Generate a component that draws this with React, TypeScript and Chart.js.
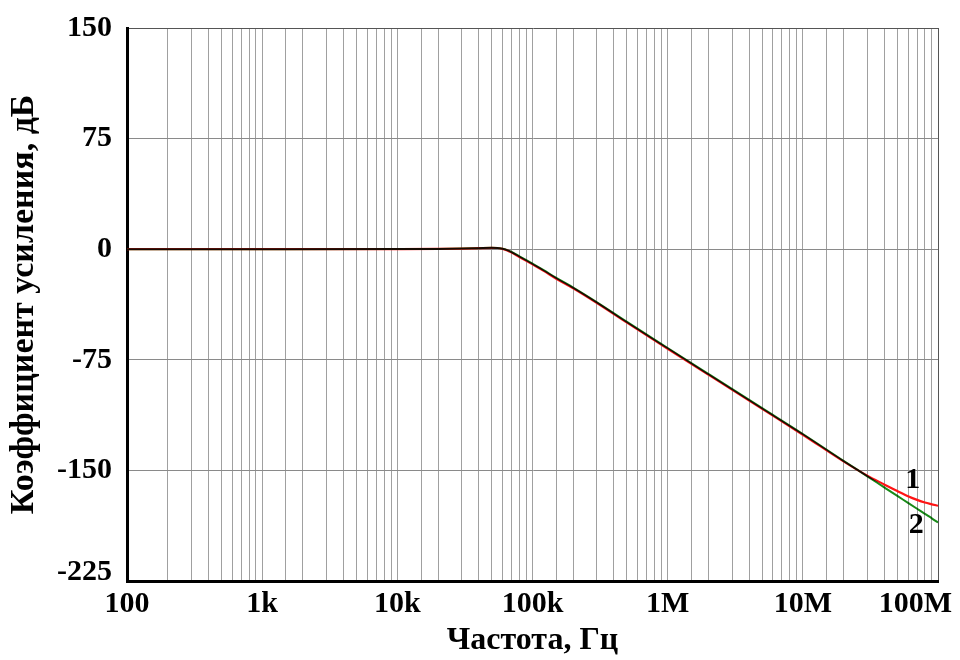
import React, { useEffect, useRef } from "react";
import { Chart, registerables } from "chart.js";

Chart.register(...registerables);

// Frequency, Hz
const freqs = [
  100, 1000, 10000, 20000, 30000, 40000, 50000, 55000, 60000, 65000, 70000,
  80000, 90000, 100000, 120000, 150000, 200000, 300000, 500000, 1e6, 2e6, 5e6,
  1e7, 2e7, 3e7, 4e7, 5e7, 6e7, 7e7, 8e7, 9e7, 1e8,
];
// Curve 1 (red), dB
const gain1 = [
  0, 0, 0.1, 0.2, 0.4, 0.7, 0.9, 0.8, 0.2, -0.8, -2.3, -5.3, -7.9, -10.3,
  -14.5, -20, -26.5, -36.5, -49.8, -67.5, -85.1, -108.3, -125.8, -143.9,
  -153.6, -159.5, -164, -167.5, -170, -171.8, -173, -174,
];
// Curve 2 (green), dB
const gain2 = [
  0, 0, 0.1, 0.2, 0.4, 0.7, 0.9, 0.8, 0.3, -0.6, -1.9, -4.8, -7.4, -9.8, -14,
  -19.5, -26, -36, -49.3, -67, -84.6, -107.8, -125.3, -143.5, -154, -161.5,
  -167.3, -172, -176, -179.5, -182.5, -185.3,
];

const xTickValues = [100, 1e3, 1e4, 1e5, 1e6, 1e7, 1e8];
const xTickLabels = ["100", "1k", "10k", "100k", "1M", "10M", "100M"];
const yTicks = [150, 75, 0, -75, -150, -225];

const curveLabels = ["1", "2"];
const curveLabelFreq = [65e6, 69e6];
const curveLabelGain = [-156.5, -187.5];

const FONT = "'Liberation Serif', 'Times New Roman', serif";

export default function App() {
  const ref = useRef<HTMLCanvasElement | null>(null);

  useEffect(() => {
    if (!ref.current) return;
    const labelPlugin = {
      id: "curveLabels",
      beforeDatasetDraw(chart: any, args: any) {
        if (args.index === 0) {
          chart.ctx.save();
          chart.ctx.globalCompositeOperation = "multiply";
        }
      },
      afterDatasetDraw(chart: any, args: any) {
        if (args.index === 0) chart.ctx.restore();
      },
      afterDatasetsDraw(chart: any) {
        const { ctx, scales } = chart;
        ctx.save();
        ctx.font = `bold 30px ${FONT}`;
        ctx.fillStyle = "#000";
        ctx.textAlign = "center";
        ctx.textBaseline = "middle";
        curveLabels.forEach((t, i) => {
          const x = scales.x.getPixelForValue(curveLabelFreq[i]);
          const y = scales.y.getPixelForValue(curveLabelGain[i]);
          ctx.fillText(t, x, y);
        });
        ctx.restore();
      },
    };

    const chart = new Chart(ref.current, {
      type: "line",
      data: {
        datasets: [
          {
            label: "2",
            data: freqs.map((f, i) => ({ x: f, y: gain2[i] })),
            borderColor: "#178a17",
            borderWidth: 2,
            pointRadius: 0,
            cubicInterpolationMode: "monotone",
          },
          {
            label: "1",
            data: freqs.map((f, i) => ({ x: f, y: gain1[i] })),
            borderColor: "#ff1414",
            borderWidth: 2.2,
            pointRadius: 0,
            cubicInterpolationMode: "monotone",
          },
        ],
      },
      options: {
        animation: false,
        responsive: true,
        maintainAspectRatio: false,
        layout: { padding: { top: 28, right: 22, left: 0, bottom: 0 } },
        plugins: { legend: { display: false }, tooltip: { enabled: false } },
        scales: {
          x: {
            type: "logarithmic",
            min: 100,
            max: 1e8,
            grid: {
              drawTicks: false,
              color: (c: any) =>
                c.tick && c.tick.value === 1e8 ? "#555555" : "#a0a0a0",
              lineWidth: 1,
            },
            border: { color: "#000", width: 3 },
            ticks: {
              autoSkip: false,
              maxRotation: 0,
              padding: 5,
              color: "#000",
              font: { family: FONT, size: 30, weight: "bold" },
              callback: (v: any) => {
                const idx = xTickValues.indexOf(Number(v));
                if (idx < 0) return "";
                const lab = xTickLabels[idx];
                return idx === xTickValues.length - 1
                  ? lab + "\u2007\u2007\u2007"
                  : lab;
              },
            },
            title: {
              display: true,
              text: "Частота, Гц",
              color: "#000",
              font: { family: FONT, size: 32, weight: "bold" },
              padding: { top: 0, bottom: 0 },
            },
            afterFit: (s: any) => {
              s.height = 79;
              s.paddingLeft = 0;
              s.paddingRight = 0;
            },
          },
          y: {
            type: "linear",
            min: -225,
            max: 150,
            afterBuildTicks: (s: any) => {
              s.ticks = yTicks.map((v) => ({ value: v }));
            },
            grid: {
              drawTicks: false,
              color: (c: any) =>
                c.tick && c.tick.value === 150 ? "#555555" : "#8a8a8a",
              lineWidth: 1,
            },
            border: { color: "#000", width: 3 },
            ticks: {
              padding: 15,
              color: "#000",
              font: (c: any) => ({
                family: FONT,
                size: 30,
                weight: "bold",
                lineHeight: c.tick && c.tick.value === -225 ? "18px" : 1.2,
              }),
              callback: (v: any) =>
                Number(v) === -225 ? [String(v), ""] : String(v),
            },
            title: {
              display: true,
              text: "Коэффициент усиления, дБ",
              color: "#000",
              font: { family: FONT, size: 34, weight: "bold" },
              padding: { top: 4, bottom: 0 },
            },
            afterFit: (s: any) => {
              s.width = 127;
              s.paddingTop = 0;
              s.paddingBottom = 0;
            },
          },
        },
      },
      plugins: [labelPlugin],
    } as any);
    return () => chart.destroy();
  }, []);

  return (
    <div
      style={{
        position: "fixed",
        left: 0,
        top: 0,
        width: 960,
        height: 660,
        background: "#fff",
      }}
    >
      <canvas ref={ref} />
    </div>
  );
}
